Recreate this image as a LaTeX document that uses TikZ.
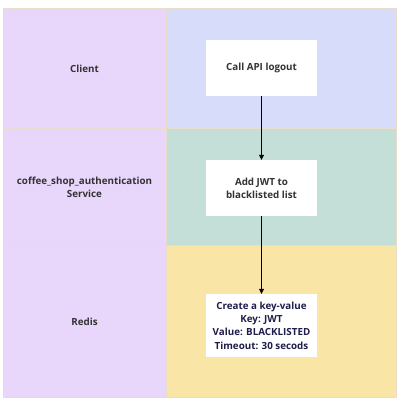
\documentclass[tikz,border=0pt]{standalone}
\usepackage{fontspec}
\setmainfont{Open Sans}
\usetikzlibrary{arrows.meta}
\definecolor{lanecol}{HTML}{E8D6FB}
\definecolor{clientcol}{HTML}{D6DCFA}
\definecolor{authcol}{HTML}{C4DFD7}
\definecolor{rediscol}{HTML}{F9E6A7}
\definecolor{bordercol}{HTML}{EADCCC}
\definecolor{txtcol}{HTML}{333333}
\definecolor{navytxt}{HTML}{1F1D4A}
\tikzset{
  cell/.style={draw=bordercol, line width=0.8pt},
  lanelabel/.style={font=\bfseries\fontsize{9.8}{13.3}\selectfont, text=txtcol, align=center},
  stepbox/.style={fill=white, minimum width=111pt, minimum height=56pt, inner sep=0pt, align=center, font=\bfseries\fontsize{9.8}{13.3}\selectfont, text=txtcol},
  flow/.style={draw=black, line width=0.6pt, -{Triangle[length=5pt,width=5pt]}}
}
\begin{document}
\begin{tikzpicture}[x=1pt,y=-1pt]
\useasboundingbox (0,0) rectangle (403,402);
\fill[white] (0,0) rectangle (403,402);
% lanes
\path[cell, fill=lanecol] (3,8) rectangle (166,128);
\path[cell, fill=clientcol] (166,8) rectangle (396,128);
\path[cell, fill=lanecol] (3,128) rectangle (166,245);
\path[cell, fill=authcol] (166,128) rectangle (396,245);
\path[cell, fill=lanecol] (3,245) rectangle (166,397);
\path[cell, fill=rediscol] (166,245) rectangle (396,397);
% lane labels
\node[lanelabel] (lclient) at (84.5,69) {Client};
\node[lanelabel] (lauth) at (84.5,187.5) {coffee\_shop\_authentication\\Service};
\node[lanelabel] (lredis) at (84.5,322) {Redis};
% steps
\node[stepbox] (s1) at (261.5,68) {Call API logout};
\node[stepbox] (s2) at (261.5,188) {Add JWT to\\blacklisted list};
\node[stepbox, minimum height=63pt, text=navytxt] (s3) at (261.5,325.5) {Create a key-value\\Key: JWT\\Value: BLACKLISTED\\Timeout: 30 secods};
% connectors
\draw[flow] (s1.south) -- (s2.north);
\draw[flow] (s2.south) -- (s3.north);
\end{tikzpicture}
\end{document}
